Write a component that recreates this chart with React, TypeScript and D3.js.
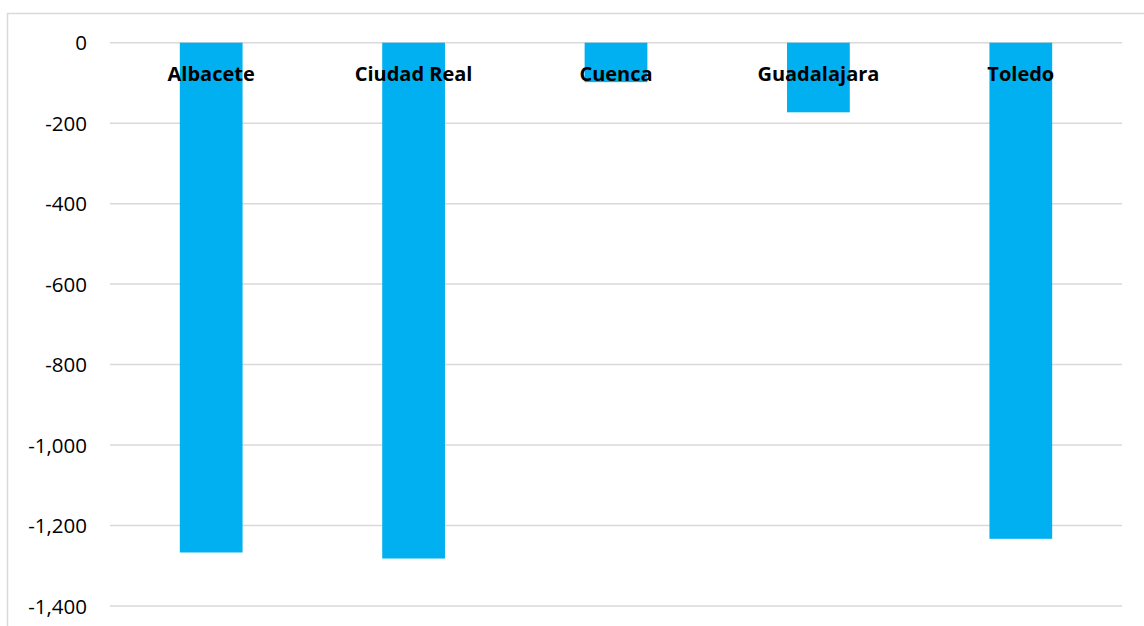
import React from "react";
import * as d3 from "d3";

const categories = ["Albacete", "Ciudad Real", "Cuenca", "Guadalajara", "Toledo"];
const values = [-1267, -1282, -98, -173, -1233];
const yTicks = [0, -200, -400, -600, -800, -1000, -1200, -1400];

const W = 1144;
const H = 626;
const plot = { left: 110, right: 1122, top: 42.7, bottom: 606 };

export default function App() {
  const x = d3
    .scaleBand<string>()
    .domain(categories)
    .range([plot.left, plot.right])
    .paddingInner(0.69)
    .paddingOuter(0.345);
  const y = d3.scaleLinear().domain([0, -1400]).range([plot.top, plot.bottom]);
  const fmt = d3.formatLocale({ decimal: ".", thousands: ",", grouping: [3], currency: ["", ""], minus: "-" }).format(",");

  return (
    <svg
      width={W}
      height={H}
      style={{ position: "absolute", left: 0, top: 0, background: "#fff" }}
      fontFamily="'Open Sans', sans-serif"
    >
      <rect x={7.5} y={13.5} width={W} height={H} fill="none" stroke="#d9d9d9" strokeWidth={1.5} />
      {yTicks.map((t) => (
        <g key={t}>
          <line x1={plot.left} x2={plot.right} y1={y(t)} y2={y(t)} stroke="#d9d9d9" strokeWidth={1.5} />
          <text x={87} y={y(t) + 7.5} textAnchor="end" fontSize={20.5} fill="#000">
            {fmt(t)}
          </text>
        </g>
      ))}
      {categories.map((c, i) => (
        <rect
          key={c}
          x={x(c)}
          y={y(0)}
          width={x.bandwidth()}
          height={y(values[i]) - y(0)}
          fill="#00B0F0"
        />
      ))}
      {categories.map((c) => (
        <text
          key={c}
          x={(x(c) as number) + x.bandwidth() / 2}
          y={81}
          textAnchor="middle"
          fontSize={20}
          fontWeight="bold"
          fill="#000"
        >
          {c}
        </text>
      ))}
    </svg>
  );
}
